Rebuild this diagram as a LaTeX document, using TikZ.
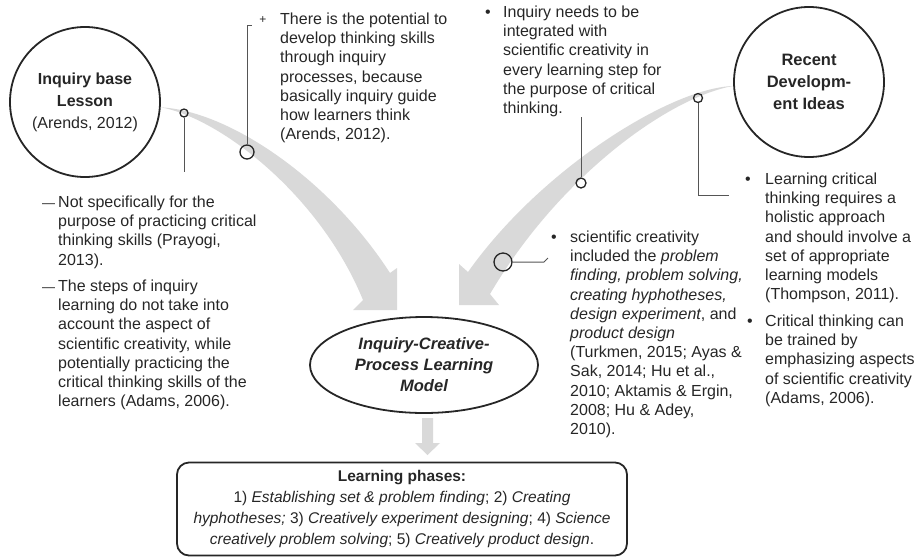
\documentclass[tikz,border=0pt]{standalone}
\usepackage{fontspec}
\setmainfont{Liberation Sans}
\usetikzlibrary{shapes.geometric}
\definecolor{band}{HTML}{D9D9D9}
\definecolor{ink}{HTML}{262626}
\definecolor{wire}{HTML}{555555}
\begin{document}
\begin{tikzpicture}[x=1pt,y=-1pt,
  txt/.style={anchor=north west, inner sep=0pt, align=left, text=ink, font=\fontsize{16}{19.2}\selectfont},
  bul/.style={anchor=base, inner sep=0pt, text=ink, font=\fontsize{16}{19.2}\selectfont},
  bigcirc/.style={circle, draw=ink, line width=1.8pt, minimum size=150pt, inner sep=0pt, align=center, text=ink},
  markc/.style={circle, draw=ink, line width=1.3pt, inner sep=0pt},
  wireline/.style={draw=wire, line width=1pt},
  bandfill/.style={fill=band, draw=none}]
\useasboundingbox (0,0) rectangle (915,558);

% source circles
\node[bigcirc, font=\fontsize{16}{22}\selectfont] (lesson) at (85,102) {\textbf{Inquiry base}\\\textbf{Lesson}\\(Arends, 2012)};
\node[bigcirc, font=\bfseries\fontsize{16.5}{22}\selectfont] (recent) at (809,82) {Recent\\Developm-\\ent Ideas};

% grey curved arrows
\coordinate (lt) at (lesson.-4);
\fill[bandfill] (lt) .. controls (220,118) and (320,195) .. (363,300) -- (353,310) -- (397,310) -- (397,268) -- (390,273) .. controls (330,180) and (230,111) .. (lt) -- cycle;
\coordinate (rt) at (recent.183);
\fill[bandfill] (rt) .. controls (670,88) and (540,170) .. (468,272) -- (459,264) -- (459,305) -- (499,305) -- (490,294) .. controls (560,175) and (670,97) .. (rt) -- cycle;

% model ellipse
\node[ellipse, draw=ink, line width=1.8pt, minimum width=228pt, minimum height=96pt, inner sep=0pt, align=center, text=ink, font=\bfseries\itshape\fontsize{16.5}{21}\selectfont] (model) at (424,365) {Inquiry-Creative-\\Process Learning\\Model};

% learning phases box
\node[draw=ink, line width=1.8pt, rounded corners=12pt, minimum width=450pt, minimum height=93pt, inner sep=0pt, align=center, text=ink, font=\fontsize{15.5}{21}\selectfont] (phases) at (402,509) {\textbf{Learning phases:}\\1) \textit{Establishing set \& problem finding}; 2) \textit{Creating}\\\textit{hyphotheses;} 3) \textit{Creatively experiment designing}; 4) \textit{Science}\\\textit{creatively problem solving}; 5) \textit{Creatively product design}.};

% down arrow
\fill[bandfill] (422,418) -- (433,418) -- (433,443) -- (440,443) -- (427.5,455) -- (415,443) -- (422,443) -- cycle;

% markers and leader lines
\node[markc, minimum size=8pt] (m1) at (184,113) {};
\coordinate (m1e) at (184,172);
\draw[wireline] (m1) -- (m1e);

\node[markc, minimum size=14pt] (m2) at (247,152) {};
\coordinate (m2a) at (247,25);
\coordinate (m2b) at (252,25);
\draw[wireline] (m2) -- (m2a) -- (m2b);

\node[markc, minimum size=9pt] (m3) at (698,98) {};
\coordinate (m3a) at (698,195);
\coordinate (m3b) at (729,195);
\draw[wireline] (m3) -- (m3a) -- (m3b);

\node[markc, minimum size=10pt] (m4) at (581,183) {};
\coordinate (m4a) at (581,117);
\draw[wireline] (m4) -- (m4a);

\node[markc, minimum size=18pt] (m5) at (503,262) {};
\coordinate (m5a) at (544,262);
\coordinate (m5b) at (548,258);
\draw[wireline] (m5) -- (m5a) -- (m5b);

% bullets
\node[bul, font=\fontsize{12}{14}\selectfont] (b1) at (263,23.5) {+};
\node[bul] (b2) at (488,17.2) {•};
\node[bul] (b3) at (748,184.2) {•};
\node[bul] (b4) at (750,326.2) {•};
\node[bul] (b5) at (554,242.2) {•};
\node[bul, font=\fontsize{13}{15}\selectfont] (b6) at (48.5,207.2) {—};
\node[bul, font=\fontsize{13}{15}\selectfont] (b7) at (48.5,291.2) {—};

% text blocks
\node[txt] (ta) at (280,12.7) {There is the potential to\\develop thinking skills\\through inquiry\\processes, because\\basically inquiry guide\\how learners think\\(Arends, 2012).};
\node[txt] (tb) at (503,5.7) {Inquiry needs to be\\integrated with\\scientific creativity in\\every learning step for\\the purpose of critical\\thinking.};
\node[txt] (tc) at (765,172.7) {Learning critical\\thinking requires a\\holistic approach\\and should involve a\\set of appropriate\\learning models\\(Thompson, 2011).};
\node[txt] (td) at (765,314.7) {Critical thinking can\\be trained by\\emphasizing aspects\\of scientific creativity\\(Adams, 2006).};
\node[txt] (te) at (570,230.7) {scientific creativity\\included the \textit{problem}\\\textit{finding, problem solving,}\\\textit{creating hyphotheses,}\\\textit{design experiment}, and\\\textit{product design}\\(Turkmen, 2015; Ayas \&\\Sak, 2014; Hu et al.,\\2010; Aktamis \& Ergin,\\2008; Hu \& Adey,\\2010).};
\node[txt] (tf) at (58,195.7) {Not specifically for the\\purpose of practicing critical\\thinking skills (Prayogi,\\2013).};
\node[txt] (tg) at (58,279.7) {The steps of inquiry\\learning do not take into\\account the aspect of\\scientific creativity, while\\potentially practicing the\\critical thinking skills of the\\learners (Adams, 2006).};
\end{tikzpicture}
\end{document}
